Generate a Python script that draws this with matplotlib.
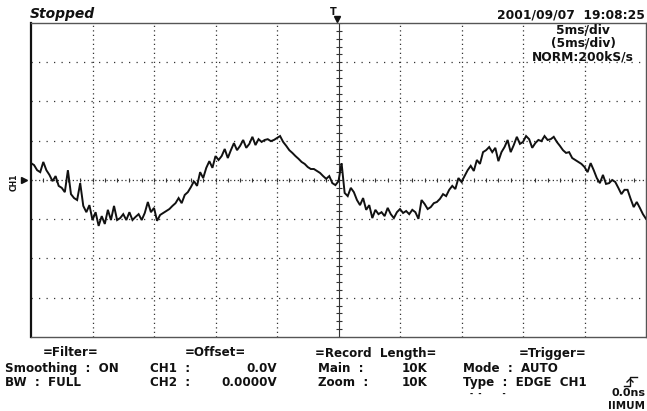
"""
Scope capture: CH1 trace over 10 divisions at 5 ms/div, with the
instrument's header and settings panel drawn as text.
"""
import numpy as np
import matplotlib
matplotlib.use("Agg")
import matplotlib.pyplot as plt

W, H = 647, 411

# CH1 samples (vertical divisions), one every 0.25 ms from -25 ms to +25 ms
CH1_DIV = [
    0.43, 0.38, 0.25, 0.20, 0.46, 0.25, 0.13, -0.03, 0.10, -0.15,
    -0.20, -0.31, 0.25, -0.36, -0.46, -0.51, -0.08, -0.66, -0.82, -0.64,
    -1.02, -0.82, -1.17, -0.92, -1.12, -0.76, -1.02, -0.66, -1.02, -0.97,
    -0.87, -1.02, -0.82, -1.02, -0.94, -0.87, -1.02, -0.84, -0.56, -0.82,
    -0.71, -1.04, -0.89, -0.84, -0.79, -0.74, -0.66, -0.59, -0.46, -0.59,
    -0.38, -0.31, -0.18, -0.03, -0.15, 0.20, 0.05, 0.31, 0.48, 0.31,
    0.61, 0.51, 0.61, 0.79, 0.56, 0.76, 0.94, 0.76, 0.87, 1.02,
    0.82, 0.92, 1.10, 0.89, 1.04, 0.97, 1.02, 1.04, 0.99, 1.02,
    1.07, 1.12, 0.97, 0.87, 0.76, 0.69, 0.61, 0.54, 0.46, 0.41,
    0.33, 0.28, 0.28, 0.23, 0.18, 0.10, 0.03, 0.10, -0.08, -0.13,
    -0.03, 0.43, -0.33, -0.41, -0.20, -0.31, -0.51, -0.64, -0.46, -0.76,
    -0.64, -0.97, -0.76, -0.87, -0.82, -0.92, -0.71, -0.87, -0.97, -0.82,
    -0.74, -0.84, -0.79, -0.87, -0.76, -0.82, -0.99, -0.51, -0.61, -0.74,
    -0.69, -0.59, -0.56, -0.48, -0.36, -0.41, -0.25, -0.15, -0.23, 0.05,
    -0.05, 0.10, 0.25, 0.36, 0.23, 0.51, 0.41, 0.71, 0.76, 0.84,
    0.71, 0.82, 0.48, 0.71, 0.84, 1.02, 0.71, 0.89, 1.10, 0.92,
    0.97, 1.12, 1.04, 0.82, 0.94, 1.02, 0.99, 1.12, 1.02, 1.04,
    1.10, 0.97, 0.87, 0.76, 0.69, 0.71, 0.56, 0.51, 0.46, 0.41,
    0.33, 0.20, 0.43, 0.25, 0.05, -0.08, 0.13, -0.10, -0.08, 0.00,
    -0.05, -0.20, -0.36, -0.25, -0.25, -0.48, -0.69, -0.56, -0.71, -0.87,
    -0.99,
]
T_START_MS, T_STOP_MS = -25.0, 25.0
MS_PER_DIV = 5
N_DIV_X, N_DIV_Y = 10, 8

HEADER_DATE = "2001/09/07  19:08:25"
TIMEBASE = ["5ms/div", "(5ms/div)", "NORM:200kS/s"]

INK = "#111111"
GRID = "#333333"
FONT = "DejaVu Sans"


def draw():
    fig = plt.figure(figsize=(W / 100, H / 100), dpi=100)
    fig.patch.set_facecolor("white")
    ax = fig.add_axes([31 / W, (H - 337) / H, 615 / W, 314 / H])

    t = np.linspace(T_START_MS, T_STOP_MS, len(CH1_DIV))
    half_y = N_DIV_Y / 2

    # dotted graticule
    for k in range(1, N_DIV_X):
        xv = T_START_MS + k * MS_PER_DIV
        if xv != 0:
            ax.axvline(xv, color=GRID, lw=0.9, ls=(0, (1, 2.6)), zorder=1)
    for k in range(1, N_DIV_Y):
        yv = -half_y + k
        if yv != 0:
            ax.axhline(yv, color=GRID, lw=0.9, ls=(0, (1, 5)), zorder=1)

    # centre axes with minor tick crosses every 1/5 division
    ax.axhline(0, color=GRID, lw=0.9, ls=(0, (1, 2)), zorder=1)
    ax.axvline(0, color=GRID, lw=0.8, zorder=1)
    xt = np.arange(T_START_MS, T_STOP_MS + 0.01, MS_PER_DIV / 5)
    ax.plot(xt, np.zeros_like(xt), ls="none", marker="|", ms=3.5,
            mew=0.8, color=GRID, zorder=1)
    yt = np.arange(-half_y, half_y + 0.01, 0.2)
    ax.plot(np.zeros_like(yt), yt, ls="none", marker="_", ms=4,
            mew=0.8, color=GRID, zorder=1)

    ax.plot(t, CH1_DIV, color=INK, lw=1.4, zorder=3, solid_joinstyle="miter")

    ax.set_xlim(T_START_MS, T_STOP_MS)
    ax.set_ylim(-half_y, half_y)
    ax.set_xticks([])
    ax.set_yticks([])
    for side, sp in ax.spines.items():
        sp.set_color(INK if side == "left" else "#555555")
        sp.set_linewidth(1.6 if side == "left" else 1.0)

    def put(x, y, s, ha="left", size=8.6, **kw):
        fig.text(x / W, 1 - y / H, s, ha=ha, va="center", size=size,
                 family=FONT, weight="bold", color=INK, **kw)

    def stroke(xs, ys, lw=1.0):
        fig.add_artist(plt.Line2D([x / W for x in xs], [1 - y / H for y in ys],
                                  color=INK, lw=lw, transform=fig.transFigure))

    # header
    put(30, 14, "Stopped", size=10, style="italic")
    put(645, 15, HEADER_DATE, ha="right", size=8.8)
    for i, line in enumerate(TIMEBASE):
        put(583, 30 + i * 13.5, line, ha="center", size=8.8)

    # trigger position marker and CH1 ground marker
    put(330, 12, "T", size=7)
    fig.add_artist(plt.Line2D([337 / W], [1 - 19 / H], marker="v", ms=5,
                              color=INK, transform=fig.transFigure))
    fig.add_artist(plt.Line2D([24 / W], [1 - 180 / H], marker=">", ms=5,
                              color=INK, transform=fig.transFigure))
    put(14, 182, "CH1", size=5.5, rotation=90, ha="center")

    # settings panel
    put(71, 353, "=Filter=", ha="center")
    put(215, 353, "=Offset=", ha="center")
    put(376, 353, "=Record  Length=", ha="center")
    put(553, 353, "=Trigger=", ha="center")

    put(5, 368, "Smoothing  :  ON")
    put(150, 368, "CH1  :")
    put(277, 368, "0.0V", ha="right")
    put(318, 368, "Main  :")
    put(427, 368, "10K", ha="right")
    put(463, 368, "Mode  :  AUTO")

    put(5, 382, "BW  :  FULL")
    put(150, 382, "CH2  :")
    put(277, 382, "0.0000V", ha="right")
    put(318, 382, "Zoom  :")
    put(427, 382, "10K", ha="right")
    put(463, 382, "Type  :  EDGE  CH1")
    # rising-edge trigger slope symbol
    stroke([624, 630, 630, 637], [386, 386, 377, 377])
    stroke([627, 630, 633], [382, 379, 382])
    put(470, 393, "-  -        -", size=5.5)

    put(645, 393, "0.0ns", ha="right", size=8)
    put(645, 405.5, "IIMUM", ha="right", size=7.5)

    fig.savefig("out.png", dpi=100)
    plt.close(fig)


if __name__ == "__main__":
    draw()
